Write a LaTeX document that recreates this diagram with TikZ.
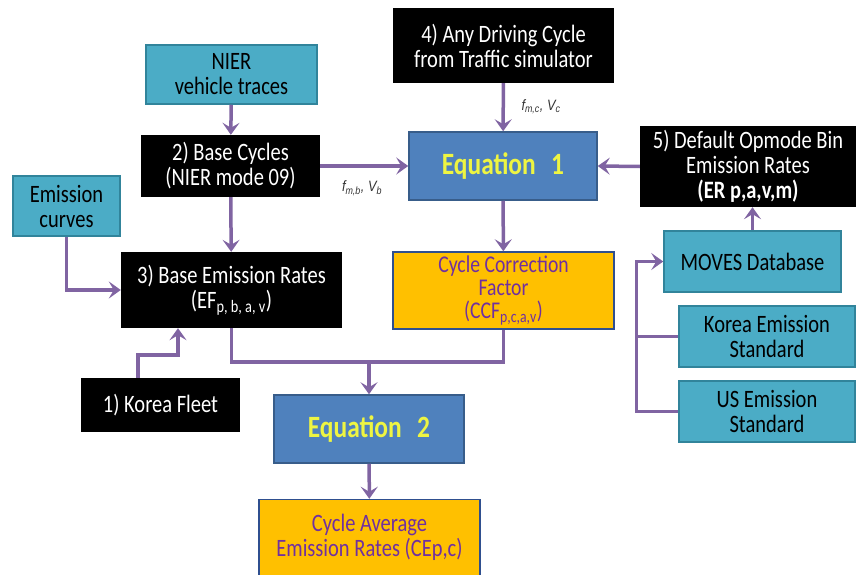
\documentclass[tikz,border=0pt]{standalone}
\usepackage{fontspec}
\setmainfont{Carlito}[FakeStretch=0.82]
\newfontfamily\labfont{Liberation Sans}[FakeStretch=0.85]
\usetikzlibrary{arrows.meta,calc}
\definecolor{tealf}{HTML}{4BACC6}
\definecolor{tealb}{HTML}{31849B}
\definecolor{bluef}{HTML}{4F81BD}
\definecolor{blueb}{HTML}{385D8A}
\definecolor{orgf}{HTML}{FFC000}
\definecolor{orgb}{HTML}{2F4F8F}
\definecolor{arrc}{HTML}{8064A2}
\definecolor{purt}{HTML}{7030A0}
\definecolor{yelt}{HTML}{EEF542}
\begin{document}
\begin{tikzpicture}[x=1pt,y=-1pt,
  box/.style={rectangle,inner sep=0pt,align=center,font=\fontsize{25}{25}\selectfont},
  tealbox/.style={box,fill=tealf,draw=tealb,line width=1.5pt,text=black},
  blkbox/.style={box,fill=black,text=white},
  eqbox/.style={box,fill=bluef,draw=blueb,line width=1.5pt,text=yelt,font=\fontsize{31}{31}\selectfont\bfseries},
  orgbox/.style={box,fill=orgf,draw=orgb,line width=1.5pt,text=purt},
  ln/.style={draw=arrc,line width=3.5pt},
  arr/.style={ln,-{Stealth[length=12pt,width=17pt,inset=5pt]}},
  lab/.style={font=\labfont\fontsize{15}{15}\selectfont\itshape,text=black!80}]
\useasboundingbox (0,0) rectangle (856,575);
% nodes
\node[tealbox,minimum width=171pt,minimum height=59pt] (nier) at (231.5,74.5) {NIER\\vehicle traces};
\node[blkbox,minimum width=179pt,minimum height=62pt] (base) at (230.5,166) {2) Base Cycles\\(NIER mode 09)};
\node[tealbox,minimum width=107pt,minimum height=60pt] (emc) at (66.5,206) {Emission\\curves};
\node[blkbox,minimum width=221pt,minimum height=76pt] (ber) at (231.5,290) {3) Base Emission Rates\\(EF\textsubscript{p, b, a, v})};
\node[blkbox,minimum width=159pt,minimum height=54pt] (kf) at (160.5,405) {1) Korea Fleet};
\node[blkbox,minimum width=221pt,minimum height=75pt] (adc) at (503.5,45.5) {4) Any Driving Cycle\\from Traffic simulator};
\node[eqbox,minimum width=188pt,minimum height=68pt] (eq1) at (503,166) {Equation\enspace 1};
\node[blkbox,minimum width=216pt,minimum height=81pt] (def) at (748,166.5) {5) Default Opmode Bin\\Emission Rates\\\textbf{(ER p,a,v,m)}};
\node[tealbox,minimum width=177pt,minimum height=61pt] (moves) at (752.5,261.5) {MOVES Database};
\node[tealbox,minimum width=176pt,minimum height=61pt] (kes) at (767,336.5) {Korea Emission\\Standard};
\node[tealbox,minimum width=176pt,minimum height=61pt] (ues) at (767,411.5) {US Emission\\Standard};
\node[orgbox,minimum width=221pt,minimum height=77pt,font=\fontsize{24}{23}\selectfont] (ccf) at (503.5,290.5) {Cycle Correction\\Factor\\(CCF\textsubscript{p,c,a,v})};
\node[eqbox,minimum width=190pt,minimum height=68pt] (eq2) at (369,429) {Equation\enspace 2};
\node[orgbox,minimum width=221pt,minimum height=76pt] (cae) at (369.5,537.5) {Cycle Average\\Emission Rates (CEp,c)};
% labels
\node[lab] (lb) at (362,188) {f\textsubscript{m,b}, V\textsubscript{b}};
\node[lab] (lc) at (541,107) {f\textsubscript{m,c}, V\textsubscript{c}};
% connectors
\coordinate (jl) at (231.5,362);
\coordinate (jr) at (503.5,362);
\coordinate (jm) at (369,362);
\coordinate (bus) at (637,0);
\draw[arr] (nier) -- (base);
\draw[arr] (base) -- (eq1);
\draw[arr] (base) -- (ber);
\draw[arr] (emc.south) |- (ber.west);
\draw[arr] ([xshift=-22.5pt]kf.north) |- ([xshift=-53.5pt,yshift=-27pt]ber.south) -- ([xshift=-53.5pt]ber.south);
\draw[ln] (ber.south) -- (jl) -- (jr) -- (ccf.south);
\draw[arr] (jm) -- (eq2.north);
\draw[arr] (adc) -- (eq1);
\draw[arr] (eq1) -- (ccf);
\draw[arr] (def.west) -- (eq1.east);
\draw[arr] (moves.north) -- (moves.north |- def.south);
\draw[ln] (kes.west) -- (kes.west -| bus);
\draw[arr] (ues.west) -| ($(moves.west)+(-27,0)$) -- (moves.west);
\draw[arr] (eq2) -- (cae);
\end{tikzpicture}
\end{document}
